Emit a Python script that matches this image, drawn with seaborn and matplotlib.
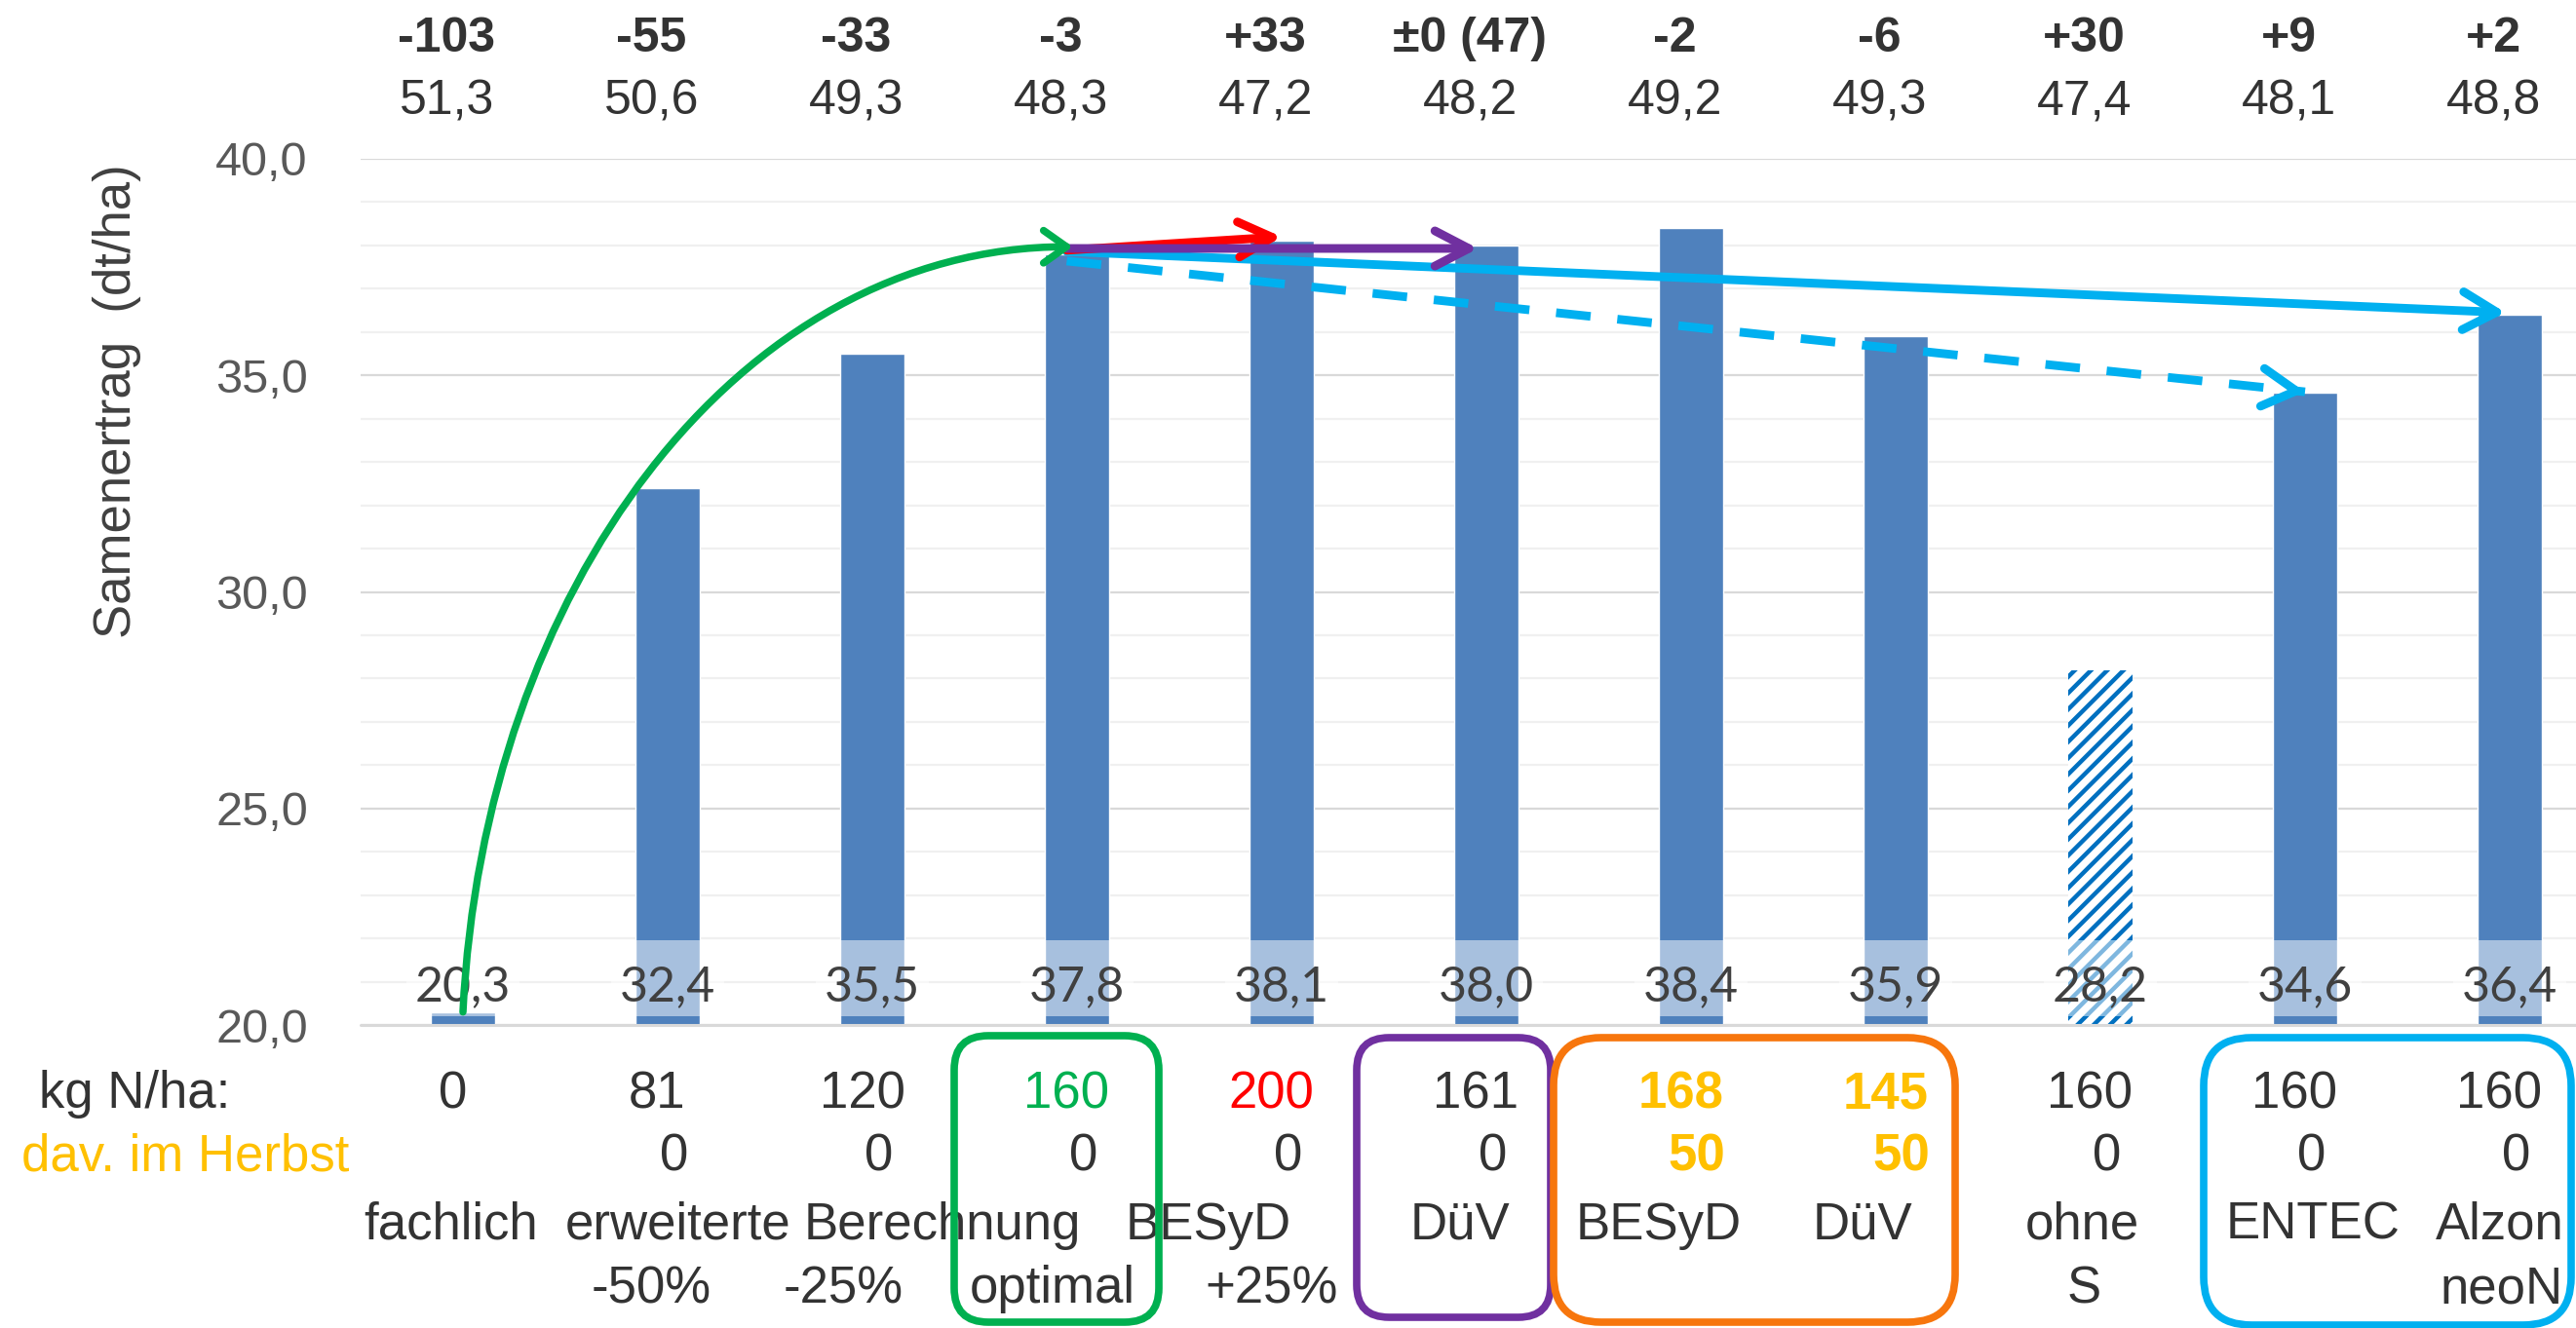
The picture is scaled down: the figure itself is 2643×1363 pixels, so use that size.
import matplotlib
matplotlib.use("Agg")
import matplotlib.pyplot as plt
from matplotlib.patches import FancyArrowPatch, FancyBboxPatch, Rectangle
from matplotlib.path import Path
from matplotlib.transforms import IdentityTransform, blended_transform_factory
import pandas as pd
import seaborn as sns

# ---- data -------------------------------------------------------------
varianten = ["Kontrolle", "BESyD -50%", "BESyD -25%", "BESyD optimal", "BESyD +25%",
             "DüV", "BESyD Herbst", "DüV Herbst", "ohne S", "ENTEC", "Alzon neoN"]
ertrag = [20.3, 32.4, 35.5, 37.8, 38.1, 38.0, 38.4, 35.9, 28.2, 34.6, 36.4]
n_saldo = ["-103", "-55", "-33", "-3", "+33", "±0 (47)", "-2", "-6", "+30", "+9", "+2"]
oelgehalt = ["51,3", "50,6", "49,3", "48,3", "47,2", "48,2", "49,2", "49,3", "47,4", "48,1", "48,8"]
n_gesamt = ["0", "81", "120", "160", "200", "161", "168", "145", "160", "160", "160"]
n_herbst = ["", "0", "0", "0", "0", "0", "50", "50", "0", "0", "0"]
zeile1 = ["fachlich", "erweiterte", "Berechnung", "BESyD", "DüV", "BESyD", "DüV",
          "ohne", "ENTEC", "Alzon"]
zeile2 = ["-50%", "-25%", "optimal", "+25%", "S", "neoN"]
y_ticks = [20, 25, 30, 35, 40]

# ---- layout constants ------------------------------------------------
W, H = 2643, 1363
DPI = 100
BAR_BLUE = "#4F81BD"
DARK = "#333333"
GREEN, RED, PURPLE, ORANGE, CYAN = "#00B050", "#FF0000", "#7030A0", "#F7760D", "#00B0F0"
YELLOW = "#FFC000"

sns.set_theme(style="white")
plt.rcParams["font.family"] = ["Liberation Sans", "DejaVu Sans"]
plt.rcParams["hatch.linewidth"] = 3.2

fig = plt.figure(figsize=(W / DPI, H / DPI), dpi=DPI)
ax = fig.add_axes([370 / W, 1 - 1052 / H, 1 - 370 / W, (1052 - 163) / H])

df = pd.DataFrame({"Variante": varianten, "Ertrag": ertrag})
sns.barplot(data=df, x="Variante", y="Ertrag", order=varianten, color=BAR_BLUE,
            saturation=1, width=0.31, errorbar=None, ax=ax, zorder=2)

# hatched bar for the variant without sulphur
hb = ax.patches[varianten.index("ohne S")]
hb.set_facecolor("white")
hb.set_edgecolor("#0070C0")
hb.set_hatch("//")
hb.set_linewidth(0)

ax.set_xlim(-0.5, 10.324)
ax.set_ylim(20, 40)
ax.set_yticks(y_ticks)
ax.set_yticklabels([f"{v:.1f}".replace(".", ",") for v in y_ticks])
ax.set_yticks(range(20, 41), minor=True)
ax.grid(which="major", axis="y", color="#D9D9D9", lw=1.6)
ax.grid(which="minor", axis="y", color="#F0F0F0", lw=1.6)
ax.set_axisbelow(True)
ax.tick_params(axis="y", which="both", length=0, pad=39, labelsize=35, labelcolor="#595959")
ax.tick_params(axis="x", length=0, labelbottom=False)
ax.set_xlabel("")
ax.set_ylabel("")
for s in ax.spines.values():
    s.set_visible(False)
ax.axhline(20, color="#D9D9D9", lw=2.2, clip_on=False, zorder=2.1)

# value labels with half-transparent backing
for i, v in enumerate(ertrag):
    ax.add_patch(Rectangle((i - 0.275, 20.2), 0.55, 1.75, facecolor="white",
                           edgecolor="none", alpha=0.5, zorder=3))
    ax.text(i, 20.56, f"{v:.1f}".replace(".", ","), ha="center", va="baseline",
            fontsize=36, color="#404040", family=["Lato", "DejaVu Sans"], zorder=4)

# ---- arrows ------------------------------------------------------------
def head(hl, hw):
    return f"->,head_length={hl},head_width={hw}"

LW = 6.4
x0 = 2.95
# dashed: optimal -> ENTEC
y_start_d = ertrag[3] - 0.16
tip_d = (9.0, ertrag[9] + 0.02)
ax.plot([x0, tip_d[0]], [y_start_d, tip_d[1]], color=CYAN, lw=LW, dashes=(4.0, 3.1),
        dash_capstyle="butt", zorder=5)
dx, dy = tip_d[0] - x0, tip_d[1] - y_start_d
ax.add_patch(FancyArrowPatch((tip_d[0] - 0.01 * dx, tip_d[1] - 0.01 * dy), tip_d,
                             arrowstyle=head(25, 14), color=CYAN, lw=LW,
                             shrinkA=0, shrinkB=0, mutation_scale=1, zorder=5))
# solid: optimal -> Alzon neoN
ax.add_patch(FancyArrowPatch((x0, ertrag[3] + 0.06), (9.98, ertrag[10] + 0.05),
                             arrowstyle=head(25, 14), color=CYAN, lw=LW,
                             shrinkA=0, shrinkB=0, mutation_scale=1, zorder=5))
# red: optimal -> +25%
ax.add_patch(FancyArrowPatch((x0, ertrag[3] + 0.09), (4.0, ertrag[4] + 0.1),
                             arrowstyle=head(25, 13), color=RED, lw=LW,
                             shrinkA=0, shrinkB=0, mutation_scale=1, zorder=6))
# purple: optimal -> DüV
ax.add_patch(FancyArrowPatch((x0, ertrag[3] + 0.13), (4.96, ertrag[3] + 0.13),
                             arrowstyle=head(25, 13), color=PURPLE, lw=LW,
                             shrinkA=0, shrinkB=0, mutation_scale=1, zorder=7))
# green curve: control -> optimal
p0 = (0.0, ertrag[0])
p3 = (2.98, ertrag[3] + 0.17)
k = 0.55
verts = [p0, (p0[0] + 0.1, p0[1] + k * (p3[1] - p0[1])),
         (p3[0] - k * (p3[0] - p0[0]), p3[1]), p3]
codes = [Path.MOVETO, Path.CURVE4, Path.CURVE4, Path.CURVE4]
ax.add_patch(FancyArrowPatch(path=Path(verts, codes), arrowstyle=head(17, 12),
                             color=GREEN, lw=5.4, mutation_scale=1, zorder=8))

# ---- text rows above and below the plot ---------------------------------
tr = blended_transform_factory(ax.transData, fig.transFigure)

def fy(px):
    return 1 - px / H

for i in range(len(varianten)):
    ax.text(i - 0.08, fy(53), n_saldo[i], transform=tr, ha="center", va="baseline",
            fontsize=36, fontweight="bold", color=DARK, clip_on=False)
    ax.text(i - 0.08, fy(118), oelgehalt[i], transform=tr, ha="center", va="baseline",
            fontsize=36, color=DARK, clip_on=False)

kg_colors = {3: (GREEN, "normal"), 4: (RED, "normal"), 6: (YELLOW, "bold"), 7: (YELLOW, "bold")}
for i, t in enumerate(n_gesamt):
    c, w = kg_colors.get(i, (DARK, "normal"))
    ax.text(i - 0.05, fy(1137), t, transform=tr, ha="center", va="baseline",
            fontsize=38, color=c, fontweight=w, clip_on=False)
for i, t in enumerate(n_herbst):
    c, w = kg_colors.get(i, (DARK, "normal")) if i in (6, 7) else (DARK, "normal")
    ax.text(i + 0.03, fy(1202), t, transform=tr, ha="center", va="baseline",
            fontsize=38, color=c, fontweight=w, clip_on=False)

zeile1_x = [-0.06, 1.05, 2.34, 3.64, 4.87, 5.84, 6.84, 7.91, 9.04, 9.95]
zeile2_x = [0.92, 1.86, 2.88, 3.95, 7.92, 9.96]
for t, x in zip(zeile1, zeile1_x):
    ax.text(x, fy(1272), t, transform=tr, ha="center", va="baseline",
            fontsize=38, color=DARK, clip_on=False)
for t, x in zip(zeile2, zeile2_x):
    ax.text(x, fy(1337), t, transform=tr, ha="center", va="baseline",
            fontsize=38, color=DARK, clip_on=False)

fig.text(40 / W, fy(1137), "kg N/ha:", ha="left", va="baseline", fontsize=38, color=DARK)
fig.text(22 / W, fy(1202), "dav. im Herbst", ha="left", va="baseline", fontsize=38, color=YELLOW)

fig.text(120 / W, fy(412), "Samenertrag  (dt/ha)", rotation=90, ha="center", va="center",
         fontsize=38, color="#404040")

# ---- rounded group frames ------------------------------------------------
frames = [(979, 1189, 1063, 1357, GREEN), (1392, 1591, 1065, 1352, PURPLE),
          (1594, 2006, 1065, 1357, ORANGE), (2261, 2638, 1065, 1360, CYAN)]
for xl, xr, yt, yb, col in frames:
    w, h = xr - xl, yb - yt
    r = min(w, h) / 6
    fig.add_artist(FancyBboxPatch((xl, H - yb), w, h,
                                  boxstyle=f"round,pad=0,rounding_size={r}",
                                  transform=IdentityTransform(), fill=False,
                                  edgecolor=col, lw=5.5))

fig.savefig("out.png", dpi=DPI, facecolor="white")
